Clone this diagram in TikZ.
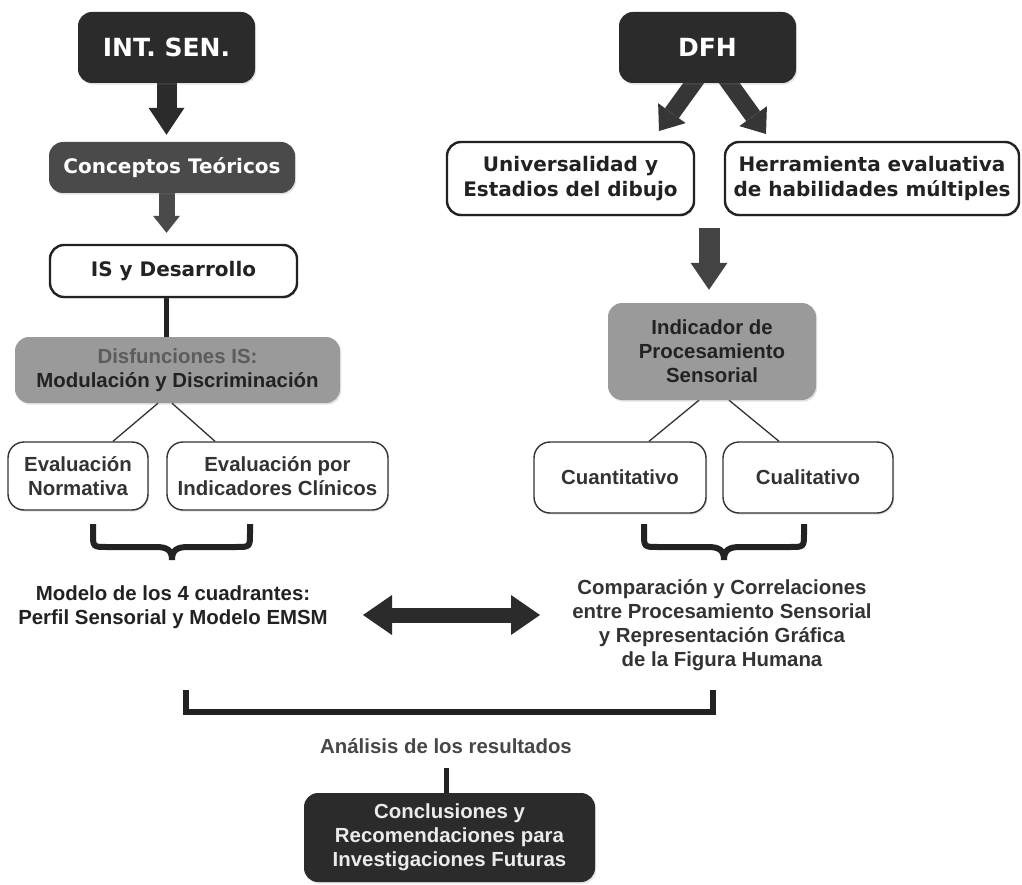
\documentclass[tikz,border=0pt]{standalone}
\usepackage{fontspec}
\setmainfont{Liberation Sans}
\newfontfamily\heavyfont{DejaVu Sans}
\usetikzlibrary{arrows.meta,calc,shadows}
\definecolor{dark}{HTML}{2B2B2B}
\definecolor{midgray}{HTML}{4A4A4A}
\definecolor{boxgray}{HTML}{9A9A9A}
\definecolor{ink}{HTML}{222222}
\definecolor{softink}{HTML}{333333}
\definecolor{lightink}{HTML}{5C5C5C}
\pgfdeclarelayer{back}
\pgfdeclarelayer{bg}
\pgfsetlayers{back,bg,main}
\tikzset{
  base/.style={rounded corners=14pt, inner sep=0pt, align=center,
    drop shadow={shadow xshift=1.2pt, shadow yshift=-1.6pt, opacity=0.22}},
  heavytext/.style={font=\heavyfont\bfseries\fontsize{20}{25}\selectfont},
  lighttext/.style={font=\bfseries\fontsize{20.4}{24}\selectfont},
  darkbox/.style={base, fill=dark, text=white, font=\heavyfont\bfseries\fontsize{25}{30}\selectfont},
  conceptbox/.style={base, heavytext, fill=midgray, text=white},
  heavywhite/.style={base, heavytext, fill=white, draw=ink, line width=2.4pt, text=ink},
  graybox/.style={base, lighttext, fill=boxgray, text=ink},
  lightwhite/.style={base, lighttext, fill=white, draw=softink, line width=1.4pt, text=softink, rounded corners=16pt},
  conclbox/.style={base, lighttext, fill=dark, text=white!92!black},
  freetext/.style={lighttext, align=center, inner sep=0pt, text=ink},
  thinline/.style={draw=softink, line width=1.3pt},
  stem/.style={draw=ink, line width=5pt},
  bracestyle/.style={draw=ink, line width=6pt, line cap=butt},
  bigarrow/.style={draw=dark, line width=20pt, line cap=butt,
    -{Triangle[length=27pt,width=36pt,line width=0pt]}},
  smallarrow/.style={draw=midgray, line width=16pt, line cap=butt,
    -{Triangle[length=17pt,width=27pt,line width=0pt]}},
  slantarrow/.style={draw=dark!95!white, line width=17pt, line cap=butt,
    -{Triangle[length=22pt,width=34pt,line width=0pt]}},
  downarrow/.style={draw=midgray!90!black, line width=21pt, line cap=butt,
    -{Triangle[length=27pt,width=37pt,line width=0pt]}},
  twoway/.style={draw=dark, line width=15pt, line cap=butt,
    {Triangle[length=29pt,width=40pt,line width=0pt]}-{Triangle[length=29pt,width=40pt,line width=0pt]}}
}
\begin{document}
\begin{tikzpicture}[x=1pt,y=-1pt]
\begin{pgfonlayer}{back}
  \fill[white] (0,0) rectangle (1022,885);
\end{pgfonlayer}
\useasboundingbox (0,0) rectangle (1022,885);

% ---- left column ----
\node[darkbox, minimum width=177pt, minimum height=71pt] (intsen) at (166.5,47.5) {INT. SEN.};
\node[conceptbox, minimum width=246pt, minimum height=51pt] (concept) at (172,167.5) {Conceptos Teóricos};
\node[heavywhite, minimum width=247pt, minimum height=52pt] (isdes) at (173.5,271) {IS y Desarrollo};
\node[graybox, minimum width=325pt, minimum height=66pt] (disf) at (177.5,370)
  {\textcolor{lightink}{Disfunciones IS:}\\Modulación y Discriminación};
\node[lightwhite, minimum width=140pt, minimum height=68pt] (evn) at (78,476) {Evaluación\\Normativa};
\node[lightwhite, minimum width=221pt, minimum height=68pt] (evi) at (277.5,476) {Evaluación por\\Indicadores Clínicos};
\node[freetext] (modelo) at (173,607) {Modelo de los 4 cuadrantes:\\Perfil Sensorial y Modelo EMSM};

% ---- right column ----
\node[darkbox, minimum width=177pt, minimum height=71pt] (dfh) at (707.5,47.5) {DFH};
\node[heavywhite, minimum width=247pt, minimum height=73pt] (univ) at (570.5,178.5) {Universalidad y\\Estadios del dibujo};
\node[heavywhite, minimum width=294pt, minimum height=73pt] (herr) at (872,178.5) {Herramienta evaluativa\\de habilidades múltiples};
\node[graybox, minimum width=208pt, minimum height=97pt] (indic) at (712,351.5) {Indicador de\\Procesamiento\\Sensorial};
\node[lightwhite, minimum width=172pt, minimum height=71pt] (cuanti) at (620,477.5) {Cuantitativo};
\node[lightwhite, minimum width=170pt, minimum height=71pt] (cuali) at (808,477.5) {Cualitativo};
\node[freetext, text=softink] (comp) at (722,625)
  {Comparación y Correlaciones\\entre Procesamiento Sensorial\\y Representación Gráfica\\de la Figura Humana};

% ---- bottom ----
\node[freetext, text=softink!90!white] (analisis) at (446,746) {Análisis de los resultados};
\node[conclbox, minimum width=291pt, minimum height=89pt] (concl) at (449.5,837.5)
  {Conclusiones y\\Recomendaciones para\\Investigaciones Futuras};

% ---- named free ends ----
\coordinate (dl0) at (706,66);
\coordinate (dl1) at (659,131);
\coordinate (dr0) at (717,66);
\coordinate (dr1) at (766,134);
\coordinate (dw0) at (709,228);
\coordinate (da0) at (363,615);
\coordinate (da1) at (540,615);

% ---- connectors ----
\begin{pgfonlayer}{bg}
  \draw[bigarrow, shorten >=7pt] (intsen.south) -- (intsen.south |- concept.north);
  \draw[smallarrow, shorten >=11pt] (concept.south -| intsen.south) -- (intsen.south |- isdes.north);
  \draw[stem] (isdes.south -| intsen.south) -- (intsen.south |- disf.north);
  \draw[slantarrow] (dl0) -- (dl1);
  \draw[slantarrow] (dr0) -- (dr1);
  \draw[downarrow, shorten >=13pt] (dw0) -- (dw0 |- indic.north);
  \draw[twoway] (da0) -- (da1);
  \draw[stem] ([yshift=-14pt]analisis.south) -- (analisis.south |- concl.north);
\end{pgfonlayer}

\draw[thinline] ([xshift=-19.5pt]disf.south) -- ([xshift=35pt]evn.north);
\draw[thinline] ([xshift=-5.5pt]disf.south) -- ([xshift=-62.5pt]evi.north);
\draw[thinline] ([xshift=-13pt]indic.south) -- ([xshift=29pt]cuanti.north);
\draw[thinline] ([xshift=17pt]indic.south) -- ([xshift=-29pt]cuali.north);

% ---- braces and bracket ----
\draw[bracestyle] (93,524) -- (93,533) .. controls (93,547) .. (107,547) -- (156,547)
  .. controls (167,547) and (172,550) .. (172,560)
  .. controls (172,550) and (177,547) .. (188,547) -- (236,547)
  .. controls (250,547) .. (250,533) -- (250,524);
\draw[bracestyle] (644,524) -- (644,533) .. controls (644,547) .. (658,547) -- (708,547)
  .. controls (719,547) and (724,550) .. (724,560)
  .. controls (724,550) and (729,547) .. (740,547) -- (790,547)
  .. controls (804,547) .. (804,533) -- (804,524);
\draw[bracestyle, line join=miter] (186,690) -- (186,712) -- (713,712) -- (713,690);
\end{tikzpicture}
\end{document}
